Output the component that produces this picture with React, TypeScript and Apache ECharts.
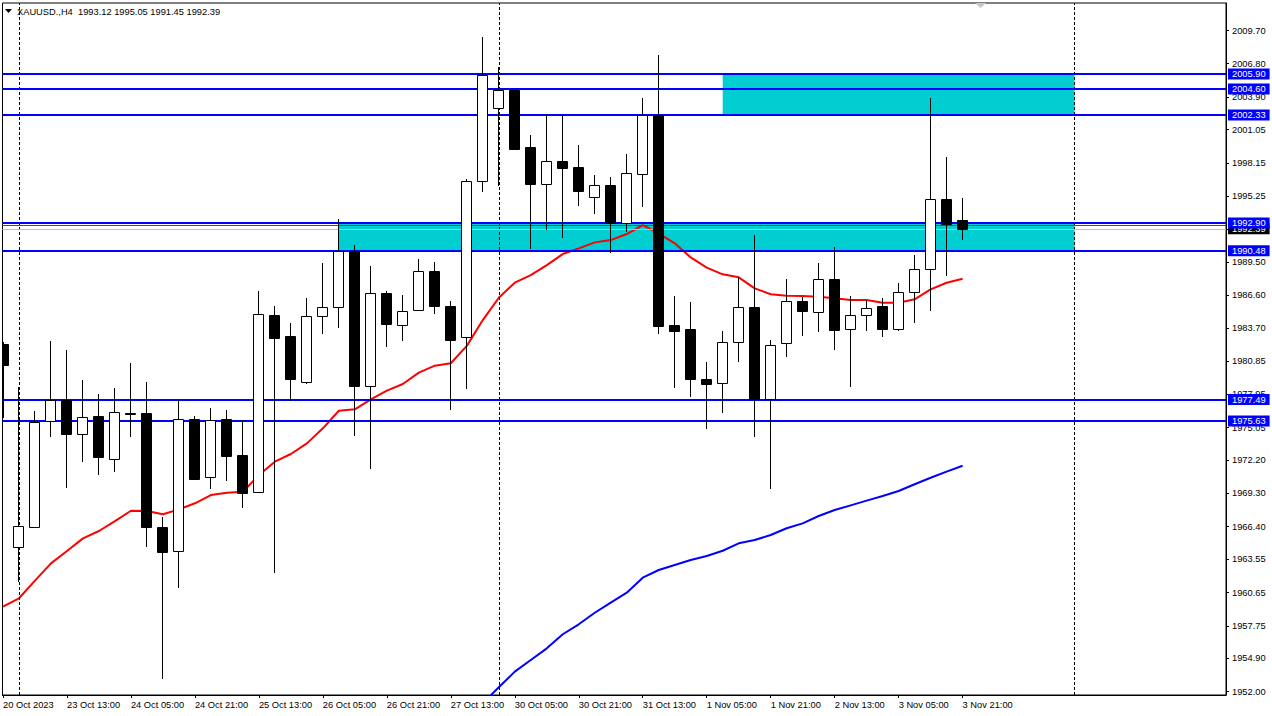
import React, { useEffect, useRef } from "react";
import * as echarts from "echarts";

const titleText = "XAUUSD.,H4  1993.12 1995.05 1991.45 1992.39";

// H4 bars, index 0 = 20 Oct 21:00 ... index 60 = 3 Nov 21:00
const opens = [
  1982.34, 1964.6, 1966.34, 1975.59, 1977.43, 1974.51, 1976.06, 1972.28, 1976.34, 1976.32,
  1966.37, 1964.25, 1975.8, 1970.71, 1975.8, 1972.65, 1969.4, 1984.84, 1983.04, 1979.05,
  1984.76, 1985.54, 1990.43, 1978.7, 1986.76, 1984.02, 1985.28, 1988.71, 1985.66, 1982.92,
  1996.54, 2002.91, 2004.48, 1999.53, 1996.33, 1998.31, 1997.78, 1995.14, 1996.19, 1992.87,
  1997.2, 2002.3, 1983.97, 1983.65, 1979.29, 1978.91, 1982.49, 1985.54, 1977.51, 1982.4,
  1986.07, 1985.11, 1987.99, 1983.62, 1984.84, 1985.63, 1983.67, 1986.85, 1988.86, 1994.99,
  1993.12,
];
const closes = [
  1980.51, 1966.43, 1975.53, 1977.43, 1974.51, 1975.94, 1972.51, 1976.38, 1976.3, 1966.4,
  1964.22, 1975.77, 1970.59, 1975.71, 1972.59, 1969.36, 1984.93, 1982.89, 1979.31, 1984.76,
  1985.54, 1990.43, 1978.7, 1986.76, 1984.11, 1985.19, 1988.71, 1985.66, 1982.69, 1996.54,
  2005.79, 2004.48, 1999.38, 1996.33, 1998.28, 1997.72, 1995.72, 1996.19, 1992.87, 1997.24,
  2002.3, 1983.94, 1983.5, 1979.31, 1978.88, 1982.49, 1985.54, 1977.51, 1982.23, 1986.07,
  1985.25, 1987.99, 1983.59, 1984.84, 1985.51, 1983.67, 1986.85, 1988.86, 1994.97, 1992.84,
  1992.39,
];
const lows = [
  1975.88, 1961.6, 1966.3, 1974.25, 1969.8, 1972.07, 1970.94, 1971.2, 1974.25, 1964.65,
  1953.11, 1961.07, 1970.5, 1969.71, 1970.41, 1968.06, 1969.3, 1962.38, 1977.37, 1978.88,
  1983.24, 1983.71, 1974.34, 1971.46, 1982.1, 1982.63, 1985.2, 1984.98, 1976.58, 1978.44,
  1995.63, 1996.15, 1999.3, 1990.63, 1992.29, 1991.59, 1994.41, 1993.71, 1990.31, 1992.11,
  1994.32, 1983.19, 1978.53, 1977.74, 1974.95, 1976.29, 1980.8, 1974.25, 1969.66, 1981.18,
  1983.04, 1983.41, 1981.84, 1978.61, 1983.5, 1982.98, 1983.5, 1984.2, 1985.25, 1988.3,
  1991.45,
];
const highs = [
  1982.5, 1978.56, 1976.49, 1982.6, 1981.82, 1979.2, 1977.98, 1978.5, 1980.68, 1979.02,
  1967.22, 1977.43, 1976.06, 1976.76, 1976.58, 1975.71, 1986.96, 1985.66, 1984.17, 1986.35,
  1989.41, 1993.25, 1990.95, 1989.15, 1986.99, 1986.62, 1989.76, 1989.5, 1986.09, 1996.74,
  2009.15, 2006.48, 2004.5, 2000.55, 2002.38, 2002.21, 1999.7, 1997.09, 1996.91, 1998.92,
  2003.81, 2007.56, 1986.53, 1986.0, 1980.77, 1983.47, 1988.21, 1991.85, 1982.69, 1987.99,
  1986.47, 1989.41, 1990.8, 1986.53, 1986.18, 1986.33, 1987.66, 1990.11, 2003.81, 1998.66,
  1995.05,
];

const redMA = [
  1959.42, 1960.15, 1961.69, 1963.2, 1964.28, 1965.38, 1966.02, 1966.89, 1967.79, 1967.77,
  1967.48, 1967.91, 1968.44, 1969.16, 1969.36, 1969.45, 1970.9, 1972.07, 1972.74, 1973.67,
  1974.98, 1976.52, 1976.64, 1977.51, 1978.27, 1978.85, 1979.84, 1980.45, 1980.66, 1982.18,
  1984.43, 1986.38, 1987.69, 1988.36, 1989.23, 1990.19, 1990.69, 1991.21, 1991.41, 1991.94,
  1992.72, 1992.0, 1991.13, 1989.9, 1989.0, 1988.42, 1988.16, 1987.2, 1986.68, 1986.55,
  1986.53, 1986.47, 1986.33, 1986.18, 1986.18, 1985.94, 1985.94, 1986.24, 1987.11, 1987.69,
  1988.04,
];

const blueMAStart = 29;
const blueMA = [
  1949.6, 1951.0, 1952.38, 1953.75, 1954.77, 1955.78, 1957.01, 1957.88, 1958.89, 1959.77,
  1960.64, 1961.95, 1962.62, 1963.06, 1963.49, 1963.84, 1964.3, 1964.95, 1965.24, 1965.67,
  1966.26, 1966.69, 1967.33, 1967.85, 1968.26, 1968.67, 1969.08, 1969.51, 1970.1, 1970.67,
  1971.2, 1971.72,
];

const xTickIndex = [0, 4, 8, 12, 16, 20, 24, 28, 32, 36, 40, 44, 48, 52, 56, 60];
const xTickLabels = [
  "20 Oct 2023", "23 Oct 13:00", "24 Oct 05:00", "24 Oct 21:00", "25 Oct 13:00",
  "26 Oct 05:00", "26 Oct 21:00", "27 Oct 13:00", "30 Oct 05:00", "30 Oct 21:00",
  "31 Oct 13:00", "1 Nov 05:00", "1 Nov 21:00", "2 Nov 13:00", "3 Nov 05:00", "3 Nov 21:00",
];

const yTickValues = [
  2009.7, 2006.8, 2003.9, 2001.05, 1998.15, 1995.25, 1992.35, 1989.5, 1986.6, 1983.7,
  1980.85, 1977.95, 1975.05, 1972.2, 1969.3, 1966.4, 1963.55, 1960.65, 1957.75, 1954.9, 1952.0,
];

const levelLines = [2005.9, 2004.6, 2002.33, 1992.9, 1990.48, 1977.49, 1975.63];
const zoneFrom = [45, 21];
const zoneTo = [67, 67];
const zoneTop = [2005.9, 1992.9];
const zoneBottom = [2002.33, 1990.48];
const separators = [1, 31, 67];
const bidPrice = 1992.39;
const askPrice = 1992.7;

const FONT = "'Liberation Sans', Arial, sans-serif";
const FS = 9.3;

export default function App() {
  const ref = useRef<HTMLDivElement>(null);
  useEffect(() => {
    document.body.style.margin = "0";
    if (!ref.current) return;
    const chart = echarts.init(ref.current, null, { renderer: "svg" });
    const candleData = opens.map((o, i) => [i, o, closes[i], lows[i], highs[i]]);

    const option: any = {
      animation: false,
      backgroundColor: "#ffffff",
      grid: {
        left: 2,
        top: 3,
        right: 46,
        bottom: 21,
        show: true,
        borderColor: "#000",
        borderWidth: 1,
        backgroundColor: "transparent",
      },
      xAxis: {
        type: "value",
        min: -0.03125,
        max: 76.46875,
        splitLine: { show: false },
        axisLine: { show: true, onZero: false, lineStyle: { color: "#000", width: 1 } },
        axisTick: { show: true, customValues: xTickIndex, length: 3, lineStyle: { color: "#000" } },
        axisLabel: {
          customValues: xTickIndex,
          formatter: (v: number) => {
            const k = xTickIndex.indexOf(Math.round(v));
            return k >= 0 ? xTickLabels[k] : "";
          },
          align: "left",
          margin: 5,
          color: "#000",
          fontSize: FS,
          fontFamily: FONT,
        },
      },
      yAxis: {
        type: "value",
        position: "right",
        min: 1951.71,
        max: 2012.1,
        splitLine: { show: false },
        axisLine: { show: true, onZero: false, lineStyle: { color: "#000" } },
        axisTick: { show: true, customValues: yTickValues, length: 3, lineStyle: { color: "#000" } },
        axisLabel: {
          customValues: yTickValues,
          formatter: (v: number) => v.toFixed(2),
          margin: 6,
          color: "#000",
          fontSize: FS,
          fontFamily: FONT,
        },
      },
      graphic: [
        { type: "polygon", shape: { points: [[5, 9], [12, 9], [8.5, 13]] }, style: { fill: "#000" } },
        {
          type: "text",
          x: 17,
          y: 12,
          style: { text: titleText, fill: "#000", font: `${FS}px ${FONT}`, verticalAlign: "middle" },
        },
        { type: "polygon", shape: { points: [[975, 3], [986, 3], [980.5, 8]] }, style: { fill: "#c8c8c8" } },
      ],
      series: [
        {
          type: "line",
          data: [],
          z: 1,
          silent: true,
          markArea: {
            silent: true,
            itemStyle: { color: "#00CED1", opacity: 1 },
            data: zoneFrom.map((f, k) => [
              { xAxis: f, yAxis: zoneTop[k] },
              { xAxis: zoneTo[k], yAxis: zoneBottom[k] },
            ]),
          },
        },
        {
          type: "line",
          data: [],
          z: 2,
          silent: true,
          markLine: {
            silent: true,
            symbol: ["none", "none"],
            lineStyle: { color: "#000", width: 1, type: [3, 2] },
            label: { show: false },
            data: separators.map((s) => ({ xAxis: s })),
          },
        },
        {
          type: "line",
          data: redMA.map((v, i) => [i, v]),
          z: 3,
          showSymbol: false,
          silent: true,
          lineStyle: { color: "#ff0000", width: 2 },
        },
        {
          type: "line",
          data: blueMA.map((v, k) => [blueMAStart + k, v]),
          z: 3,
          showSymbol: false,
          silent: true,
          clip: true,
          lineStyle: { color: "#0000ff", width: 2 },
        },
        {
          type: "custom",
          z: 5,
          silent: true,
          data: candleData,
          encode: { x: 0, y: [1, 2, 3, 4] },
          renderItem: (params: any, api: any) => {
            const i = api.value(0);
            const o = api.value(1);
            const c = api.value(2);
            const l = api.value(3);
            const h = api.value(4);
            const pO = api.coord([i, o]);
            const pC = api.coord([i, c]);
            const pL = api.coord([i, l]);
            const pH = api.coord([i, h]);
            const cx = Math.floor(pO[0]) + 0.5;
            let top = Math.round(Math.min(pO[1], pC[1])) + 0.5;
            let bot = Math.round(Math.max(pO[1], pC[1])) + 0.5;
            if (bot - top < 1) bot = top + 1;
            const cs = params.coordSys;
            const rect = echarts.graphic.clipRectByRect(
              { x: cx - 5, y: top, width: 10, height: bot - top },
              { x: cs.x, y: cs.y, width: cs.width, height: cs.height }
            );
            const children: any[] = [
              {
                type: "line",
                shape: { x1: cx, y1: Math.round(pH[1]), x2: cx, y2: Math.round(pL[1]) },
                style: { stroke: "#000", lineWidth: 1 },
              },
            ];
            if (rect) {
              children.push({
                type: "rect",
                shape: rect,
                style: { fill: c >= o ? "#fff" : "#000", stroke: "#000", lineWidth: 1 },
              });
            }
            return { type: "group", children };
          },
        },
        {
          type: "line",
          data: [],
          z: 6,
          silent: true,
          markLine: {
            silent: true,
            symbol: ["none", "none"],
            data: [
              {
                yAxis: bidPrice,
                lineStyle: { color: "#c0c0c0", width: 1, type: "solid" },
                label: {
                  show: true,
                  position: "end",
                  distance: 2,
                  formatter: bidPrice.toFixed(2),
                  backgroundColor: "#000",
                  color: "#fff",
                  fontSize: FS,
                  fontFamily: FONT,
                  lineHeight: 10,
                  padding: [1, 4, 0, 4],
                },
              },
              {
                yAxis: askPrice,
                lineStyle: { color: "#ff0000", width: 1, type: "solid" },
                label: { show: false },
              },
            ],
          },
        },
        {
          type: "line",
          data: [],
          z: 7,
          silent: true,
          markLine: {
            silent: true,
            symbol: ["none", "none"],
            lineStyle: { color: "#0000ff", width: 2, type: "solid" },
            label: {
              show: true,
              position: "end",
              distance: 2,
              formatter: (p: any) => Number(p.value).toFixed(2),
              backgroundColor: "#0000ff",
              color: "#fff",
              fontSize: FS,
              fontFamily: FONT,
              lineHeight: 10,
              padding: [1, 4, 0, 4],
            },
            data: levelLines.map((v) => ({ yAxis: v })),
          },
        },
      ],
    };
    chart.setOption(option);
    return () => chart.dispose();
  }, []);
  return (
    <div
      ref={ref}
      style={{ position: "fixed", left: 0, top: 0, width: 1272, height: 716, background: "#fff" }}
    />
  );
}
